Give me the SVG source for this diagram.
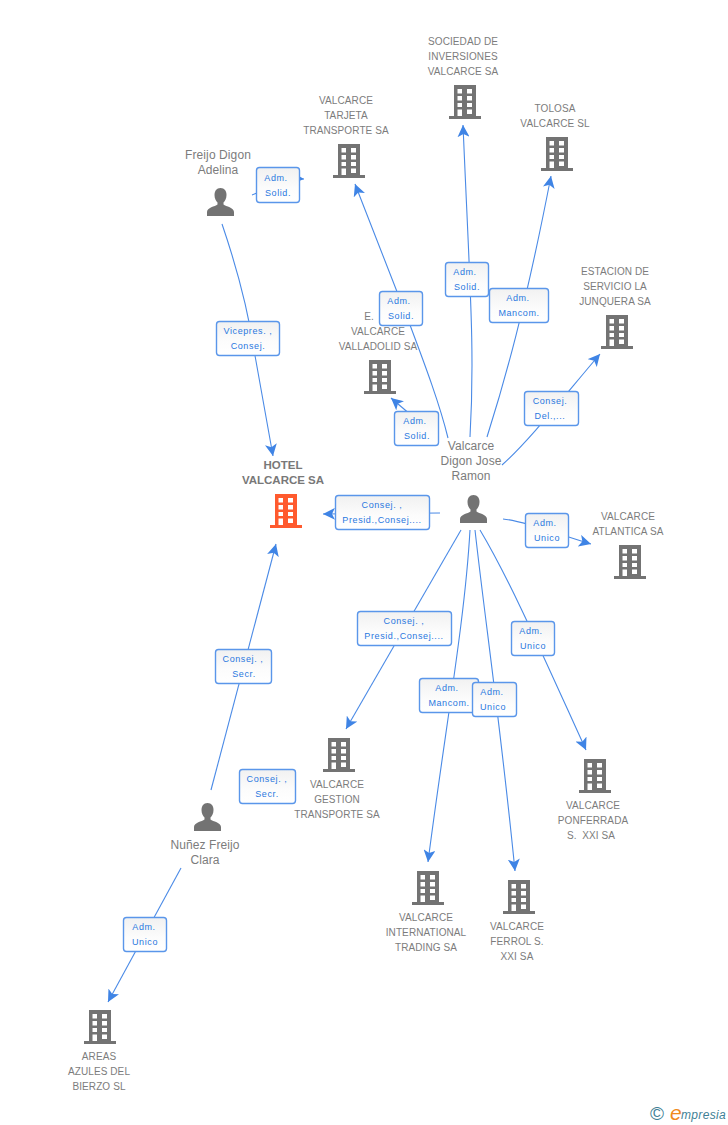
<svg xmlns="http://www.w3.org/2000/svg" width="728" height="1125" viewBox="0 0 728 1125">
<style>
text{font-family:"Liberation Sans",Arial,sans-serif}
.n{font-size:10px;letter-spacing:.1px;fill:#7c7c7c;text-anchor:middle}
.p{font-size:12px;letter-spacing:.1px;fill:#7c7c7c;text-anchor:middle}
.h{font-size:11.5px;font-weight:bold;fill:#787878;text-anchor:middle}
.b{font-size:9px;letter-spacing:.6px;fill:#2a78e0;text-anchor:middle}
.e{fill:none;stroke:#4a8ae6;stroke-width:1.1;marker-end:url(#a)}
.r{fill:url(#g);stroke:#5a96ea;stroke-width:1.4}
</style>
<defs>
<linearGradient id="g" x1="0" y1="0" x2="0" y2="1"><stop offset="0" stop-color="#f1f1f1"/><stop offset=".6" stop-color="#fcfcfc"/><stop offset="1" stop-color="#fff"/></linearGradient>
<marker id="a" markerUnits="userSpaceOnUse" markerWidth="12" markerHeight="12" refX="10" refY="5" orient="auto" viewBox="0 0 10 10"><path d="M0 0L10 5L0 10L2.500 5Z" fill="#3f84e5"/></marker>
<symbol id="bld" width="32" height="34" viewBox="0 0 32 34">
<path fill-rule="evenodd" d="M5 0H27V31H32V34H0V31H5ZM8.500 4V8.500H13V4ZM18 4V8.500H23V4ZM8.500 11V15.500H13V11ZM18 11V15.500H23V11ZM8.500 18V22H13V18ZM18 18V22H23V18ZM8.500 24.500V31H13V24.500ZM18 24.500V29H23V24.500Z"/>
</symbol>
<symbol id="per" width="27" height="28" viewBox="0 0 27 28">
<path d="M13.500 0C9.500 0 7.500 3 7.500 7C7.500 10.500 9 13 10.500 14.500V16.500C8 18.500 0 19.500 0 24V28H27V24C27 19.500 19 18.500 16.500 16.500V14.500C18 13 19.500 10.500 19.500 7C19.500 3 17.500 0 13.500 0Z"/>
</symbol>
</defs>
<g id="connectors">
<path class="e" d="M222 224C236 265 248 310 254 350L273 456"/>
<path class="e" d="M252 195C270 188 290 178 304 179"/>
<path class="e" d="M448 438C440 405 425 365 410 325L355 184"/>
<path class="e" d="M438 438L391 398"/>
<path class="e" d="M470 437C475 350 470 290 463 125"/>
<path class="e" d="M487 437C505 380 525 310 551 176"/>
<path class="e" d="M502 465C530 440 565 395 600 354"/>
<path class="e" d="M440 513L323 514"/>
<path class="e" d="M503 519C525 521 560 535 591 544"/>
<path class="e" d="M461 530L346 729"/>
<path class="e" d="M470 530C465 620 445 730 428 862"/>
<path class="e" d="M475 530C485 620 500 720 515 871"/>
<path class="e" d="M480 530C510 580 545 660 586 750"/>
<path class="e" d="M211 790L276 544"/>
<path class="e" d="M181 868L108 1002"/>
</g>
<g id="hotel"><text class="h" x="283" y="469">HOTEL</text><text class="h" x="283" y="484">VALCARCE SA</text><use href="#bld" x="270" y="494" fill="#ff5a2e"/></g>
<g id="sociedad" fill="#737373"><text class="n" x="463" y="45">SOCIEDAD DE</text><text class="n" x="463" y="60">INVERSIONES</text><text class="n" x="463" y="75">VALCARCE SA</text><use href="#bld" x="449" y="85"/></g>
<g id="tarjeta" fill="#737373"><text class="n" x="346" y="104">VALCARCE</text><text class="n" x="346" y="119">TARJETA</text><text class="n" x="346" y="134">TRANSPORTE SA</text><use href="#bld" x="333" y="144"/></g>
<g id="tolosa" fill="#737373"><text class="n" x="555" y="112">TOLOSA</text><text class="n" x="555" y="127">VALCARCE SL</text><use href="#bld" x="541" y="137"/></g>
<g id="estacion" fill="#737373"><text class="n" x="615" y="275">ESTACION DE</text><text class="n" x="615" y="290">SERVICIO LA</text><text class="n" x="615" y="305">JUNQUERA SA</text><use href="#bld" x="601" y="315"/></g>
<g id="valladolid" fill="#737373"><text class="n" x="369" y="320">E.</text><text class="n" x="378" y="335">VALCARCE</text><text class="n" x="378" y="350">VALLADOLID SA</text><use href="#bld" x="364" y="360"/></g>
<g id="atlantica" fill="#737373"><text class="n" x="628" y="520">VALCARCE</text><text class="n" x="628" y="535">ATLANTICA SA</text><use href="#bld" x="614" y="545"/></g>
<g id="gestion" fill="#737373"><use href="#bld" x="323" y="738"/><text class="n" x="337" y="788">VALCARCE</text><text class="n" x="337" y="803">GESTION</text><text class="n" x="337" y="818">TRANSPORTE SA</text></g>
<g id="ponferrada" fill="#737373"><use href="#bld" x="579" y="759"/><text class="n" x="593" y="809">VALCARCE</text><text class="n" x="593" y="824">PONFERRADA</text><text class="n" x="591" y="839">S.&#160; XXI SA</text></g>
<g id="international" fill="#737373"><use href="#bld" x="412" y="871"/><text class="n" x="426" y="921">VALCARCE</text><text class="n" x="426" y="936">INTERNATIONAL</text><text class="n" x="426" y="951">TRADING SA</text></g>
<g id="ferrol" fill="#737373"><use href="#bld" x="503" y="880"/><text class="n" x="517" y="930">VALCARCE</text><text class="n" x="517" y="945">FERROL S.</text><text class="n" x="517" y="960">XXI SA</text></g>
<g id="areas" fill="#737373"><use href="#bld" x="84" y="1010"/><text class="n" x="99" y="1060">AREAS</text><text class="n" x="99" y="1075">AZULES DEL</text><text class="n" x="99" y="1090">BIERZO SL</text></g>
<g id="freijo" fill="#737373"><text class="p" x="218" y="159">Freijo Digon</text><text class="p" x="218" y="174">Adelina</text><use href="#per" x="207" y="188"/></g>
<g id="valcarce" fill="#737373"><text class="p" x="471" y="450">Valcarce</text><text class="p" x="471" y="465">Digon Jose</text><text class="p" x="471" y="480">Ramon</text><use href="#per" x="460" y="495"/></g>
<g id="nunez" fill="#737373"><use href="#per" x="194" y="803"/><text class="p" x="205" y="849">Nuñez Freijo</text><text class="p" x="205" y="864">Clara</text></g>
<g id="labels">
<g><rect class="r" x="256.500" y="167.500" width="43" height="35" rx="3"/><text class="b" x="276" y="181">Adm.</text><text class="b" x="278" y="196">Solid.</text></g>
<g><rect class="r" x="216.500" y="321.500" width="63" height="34" rx="3"/><text class="b" x="248" y="334">Vicepres. ,</text><text class="b" x="248" y="349">Consej.</text></g>
<g><rect class="r" x="379.500" y="291.500" width="43" height="34" rx="3"/><text class="b" x="399" y="304">Adm.</text><text class="b" x="401" y="319">Solid.</text></g>
<g><rect class="r" x="445.500" y="262.500" width="43" height="34" rx="3"/><text class="b" x="465" y="275">Adm.</text><text class="b" x="467" y="290">Solid.</text></g>
<g><rect class="r" x="489.500" y="288.500" width="59" height="34" rx="3"/><text class="b" x="518" y="301">Adm.</text><text class="b" x="519" y="316">Mancom.</text></g>
<g><rect class="r" x="394.500" y="411.500" width="44" height="34" rx="3"/><text class="b" x="415" y="424">Adm.</text><text class="b" x="417" y="439">Solid.</text></g>
<g><rect class="r" x="524.500" y="391.500" width="54" height="34" rx="3"/><text class="b" x="550" y="404">Consej.</text><text class="b" x="550" y="419">Del.,...</text></g>
<g><rect class="r" x="335.500" y="495.500" width="94" height="34" rx="3"/><text class="b" x="382" y="508">Consej. ,</text><text class="b" x="382" y="523">Presid.,Consej....</text></g>
<g><rect class="r" x="525.500" y="513.500" width="43" height="34" rx="3"/><text class="b" x="545" y="526">Adm.</text><text class="b" x="547" y="541">Unico</text></g>
<g><rect class="r" x="357.500" y="611.500" width="94" height="34" rx="3"/><text class="b" x="404" y="624">Consej. ,</text><text class="b" x="404" y="639">Presid.,Consej....</text></g>
<g><rect class="r" x="511.500" y="621.500" width="43" height="34" rx="3"/><text class="b" x="531" y="634">Adm.</text><text class="b" x="533" y="649">Unico</text></g>
<g><rect class="r" x="419.500" y="678.500" width="59" height="34" rx="3"/><text class="b" x="447" y="691">Adm.</text><text class="b" x="449" y="706">Mancom.</text></g>
<g><rect class="r" x="472.500" y="682.500" width="44" height="34" rx="3"/><text class="b" x="492" y="695">Adm.</text><text class="b" x="493" y="710">Unico</text></g>
<g><rect class="r" x="215.500" y="649.500" width="56" height="34" rx="3"/><text class="b" x="243" y="662">Consej. ,</text><text class="b" x="244" y="677">Secr.</text></g>
<g><rect class="r" x="239.500" y="769.500" width="56" height="34" rx="3"/><text class="b" x="267" y="782">Consej. ,</text><text class="b" x="267" y="797">Secr.</text></g>
<g><rect class="r" x="123.500" y="917.500" width="43" height="34" rx="3"/><text class="b" x="144" y="930">Adm.</text><text class="b" x="145" y="945">Unico</text></g>
</g>
<g id="logo"><text x="650" y="1120" font-size="19" fill="#3f7f96">©</text><text x="670" y="1120" font-size="21" font-style="italic" fill="#f08a1d">e</text><text x="681" y="1119" font-size="12" letter-spacing=".35" font-style="italic" fill="#3f7f96">mpresia</text></g>
</svg>
